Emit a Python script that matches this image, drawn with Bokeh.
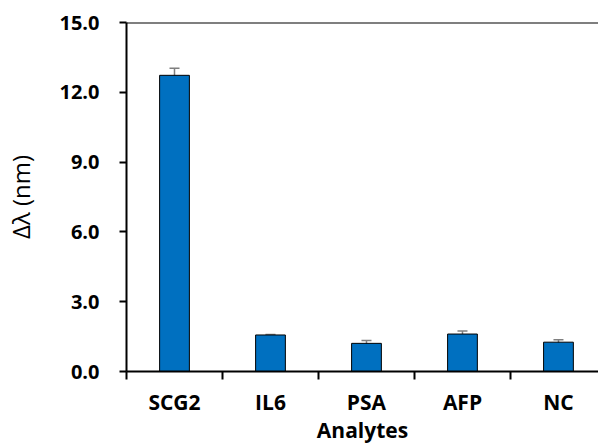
from bokeh.plotting import figure
from bokeh.models import ColumnDataSource, Whisker, TeeHead, FixedTicker, Span, Range1d
from bokeh.core.properties import value
from bokeh.embed import file_html
from bokeh.resources import INLINE

analytes = ["SCG2", "IL6", "PSA", "AFP", "NC"]
shift_nm = [12.73, 1.57, 1.21, 1.61, 1.26]
error_nm = [0.30, 0.02, 0.12, 0.13, 0.10]
y_ticks = [0, 3, 6, 9, 12, 15]

xpos = [i + 0.5 for i in range(len(analytes))]
src = ColumnDataSource(dict(
    x=xpos, top=shift_nm,
    upper=[v + e for v, e in zip(shift_nm, error_nm)],
    lower=[v - e for v, e in zip(shift_nm, error_nm)],
))

p = figure(width=598, height=446, output_backend="svg", toolbar_location=None,
           x_range=Range1d(0, 4.917), y_range=Range1d(0, 15),
           min_border_left=126, min_border_right=0, min_border_top=22, min_border_bottom=74)
p.outline_line_color = None
p.grid.grid_line_color = None
p.background_fill_color = "white"

p.vbar(x="x", top="top", width=0.31, bottom=0, source=src,
       fill_color="#0070C0", line_color="black", line_width=1)

w = Whisker(base="x", upper="upper", lower="lower", source=src,
            line_color="#7f7f7f", line_width=1.5,
            upper_head=TeeHead(size=10, line_color="#7f7f7f", line_width=1.5),
            lower_head=TeeHead(size=10, line_color="#7f7f7f", line_width=1.5))
p.add_layout(w)

p.add_layout(Span(location=15, dimension="width", line_color="black", line_width=2))

font = "Open Sans"
# y axis
p.yaxis.ticker = FixedTicker(ticks=y_ticks)
p.yaxis.major_label_overrides = {t: f"{t:.1f}" for t in y_ticks}
p.yaxis.minor_tick_line_color = None
p.yaxis.major_tick_in = 0
p.yaxis.major_tick_out = 7
p.yaxis.major_label_standoff = 20
p.yaxis.major_label_text_font = font
p.yaxis.major_label_text_font_style = "bold"
p.yaxis.major_label_text_font_size = "20px"
p.yaxis.major_label_text_color = "black"
p.yaxis.axis_label = "Δλ (nm)"
p.yaxis.axis_label_text_font = font
p.yaxis.axis_label_text_font_style = "normal"
p.yaxis.axis_label_text_font_size = "24px"
p.yaxis.axis_label_text_color = "black"
p.yaxis.axis_label_standoff = 19
p.yaxis.axis_line_width = 2
p.yaxis.major_tick_line_width = 2

# x axis
p.xaxis.ticker = FixedTicker(ticks=[0, 1, 2, 3, 4, 5])
p.xaxis.major_label_overrides = {0: "", 1: "", 2: "", 3: "", 4: "", 5: ""}
p.xaxis.minor_tick_line_color = None
p.xaxis.major_tick_in = 0
p.xaxis.major_tick_out = 8
p.xaxis.axis_line_width = 2
p.xaxis.major_tick_line_width = 2
p.xaxis.axis_label = "Analytes"
p.xaxis.axis_label_text_font = font
p.xaxis.axis_label_text_font_style = "bold"
p.xaxis.axis_label_text_font_size = "21px"
p.xaxis.axis_label_text_color = "black"
p.xaxis.axis_label_standoff = 36

p.text(x=xpos, y=[0] * len(xpos), text=analytes, text_font=value(font),
       text_font_style="bold", text_font_size="21px", text_align="center",
       text_baseline="middle", y_offset=30, level="overlay")

with open("out.html", "w") as f:
    f.write(file_html(p, INLINE))
